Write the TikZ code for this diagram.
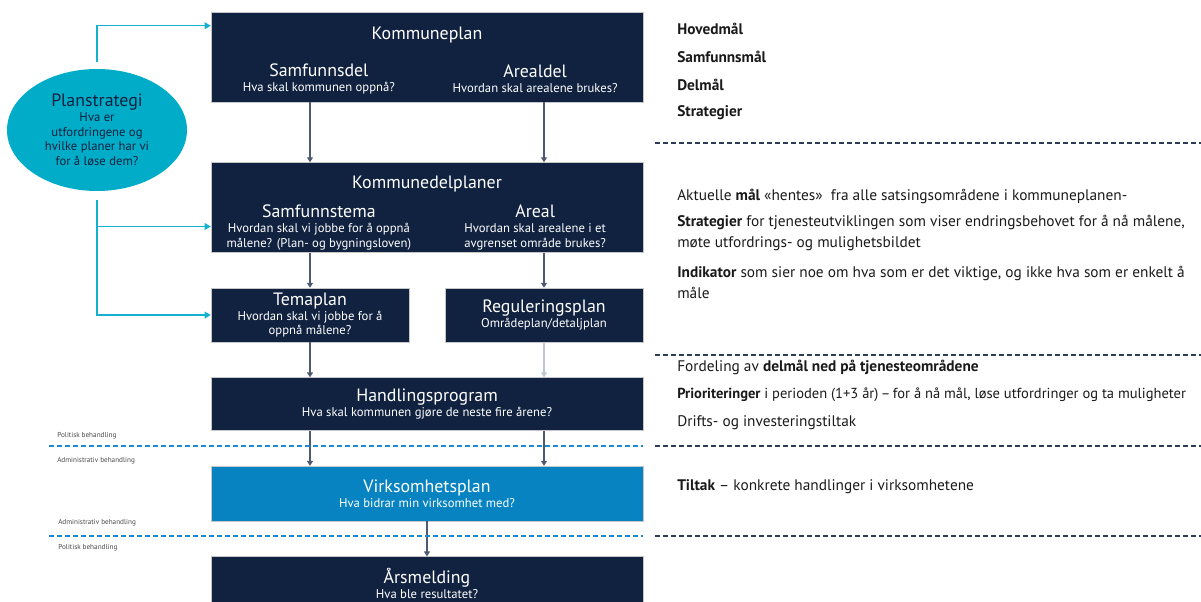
\documentclass[tikz,border=0pt]{standalone}
\usepackage{fontspec}
\setmainfont{PT Sans}
\usetikzlibrary{calc, shapes.geometric, arrows.meta, positioning}
\usepackage{xcolor}

\definecolor{navy}{RGB}{16,34,63}
\definecolor{vblue}{RGB}{6,131,192}
\definecolor{tealc}{RGB}{0,172,200}
\definecolor{tealline}{RGB}{20,176,208}
\definecolor{arrowc}{RGB}{76,90,114}
\definecolor{lightarrow}{RGB}{191,198,208}
\definecolor{sepblue}{RGB}{27,139,208}
\definecolor{sepdark}{RGB}{46,61,87}
\definecolor{notec}{RGB}{26,26,26}

\newcommand{\bxhead}{\fontsize{13.4pt}{15pt}\selectfont}
\newcommand{\bxsub}{\fontsize{9.5pt}{11.25pt}\selectfont}

\begin{document}
\begin{tikzpicture}[
    x=0.75pt, y=-0.75pt,
    every node/.style={font=\small},
    box/.style={rectangle, draw=gray!45, line width=0.4pt, fill=navy, text=white, minimum width=324pt, minimum height=40.5pt, align=center, inner sep=0pt},
    halfbox/.style={box, minimum width=148.5pt},
    plan/.style={ellipse, fill=tealc, text=navy, minimum width=135pt, minimum height=91.5pt, align=center, inner sep=0pt},
    boxhead/.style={text=white, font=\bxhead, inner sep=0pt},
    colhead/.style={text=white, align=center, inner sep=0pt},
    note/.style={anchor=west, align=left, text=notec, inner sep=0pt, font=\fontsize{11.5pt}{15.75pt}\selectfont},
    phase/.style={anchor=west, text=notec!80, inner sep=0pt, font=\fontsize{5.4pt}{6pt}\selectfont},
    arrow/.style={-{Triangle[length=3.75pt, width=4.5pt]}, line width=1.1pt, draw=arrowc},
    lightarr/.style={arrow, draw=lightarrow},
    tealarrow/.style={-{Triangle[length=4.5pt, width=5pt]}, line width=1.1pt, draw=tealline},
    sepleft/.style={dashed, dash pattern=on 4pt off 2pt, line width=0.9pt, draw=sepblue},
    sepright/.style={dashed, dash pattern=on 4pt off 2pt, line width=0.9pt, draw=sepdark}
]
    \useasboundingbox (0,0) rectangle (1201,602);

    % Plan boxes
    \node[box, minimum height=67.5pt] (kp) at (427,57) {};
    \node[box, minimum height=67.5pt, below=45pt of kp] (kdp) {};
    \node[halfbox, below right=26.25pt and 0pt of kdp.south west] (tema) {\bxhead Temaplan\\\bxsub Hvordan skal vi jobbe for å\\\bxsub oppnå målene?};
    \node[halfbox, below left=26.25pt and 0pt of kdp.south east] (reg) {\bxhead Reguleringsplan\\\bxsub Områdeplan/detaljplan};
    \coordinate (hptop) at (tema.south -| kdp.south);
    \node[box, minimum height=39.75pt, below=26.25pt of hptop] (hp) {\bxhead Handlingsprogram\\\bxsub Hva skal kommunen gjøre de neste fire årene?};
    \node[box, fill=vblue, minimum height=41.25pt, below=26.25pt of hp] (vp) {\bxhead Virksomhetsplan\\\bxsub Hva bidrar min virksomhet med?};
    \node[box, minimum height=40.5pt, below=26.25pt of vp] (ar) {\bxhead Årsmelding\\\bxsub Hva ble resultatet?};

    % Texts inside the big boxes
    \node[boxhead] at ($(kp.north)+(0,23)$) {Kommuneplan};
    \node[colhead] at ($(kp.west)!0.25!(kp.east)+(0,22)$) {\bxhead Samfunnsdel\\\bxsub Hva skal kommunen oppnå?};
    \node[colhead] at ($(kp.west)!0.75!(kp.east)+(0,22)$) {\bxhead Arealdel\\\bxsub Hvordan skal arealene brukes?};
    \node[boxhead] at ($(kdp.north)+(0,22)$) {Kommunedelplaner};
    \node[colhead] at ($(kdp.west)!0.25!(kdp.east)+(0,20)$) {\bxhead Samfunnstema\\\bxsub Hvordan skal vi jobbe for å oppnå\\\bxsub målene? (Plan- og bygningsloven)};
    \node[colhead] at ($(kdp.west)!0.75!(kdp.east)+(0,20)$) {\bxhead Areal\\\bxsub Hvordan skal arealene i et\\\bxsub avgrenset område brukes?};

    % Planstrategi
    \node[plan] (ps) at (97,130) {\bxhead Planstrategi\\\bxsub Hva er\\\bxsub utfordringene og\\\bxsub hvilke planer har vi\\\bxsub for å løse dem?};
    \coordinate (kpin) at ($(kp.north west)+(0,14)$);
    \coordinate (kdpin) at ($(kdp.west)+(0,19)$);
    \draw[tealarrow] (ps.north) ++(0,-7) |- (kpin);
    \draw[tealarrow] (ps.south) ++(0,9) |- (tema.west);
    \draw[tealarrow] (ps.south |- kdpin) -- (kdpin);

    % Arrows between the plans
    \draw[arrow] (kp.south -| tema) -- (kdp.north -| tema);
    \draw[arrow] (kp.south -| reg) -- (kdp.north -| reg);
    \draw[arrow] (kdp.south -| tema) -- (tema.north);
    \draw[arrow] (kdp.south -| reg) -- (reg.north);
    \draw[arrow] (tema.south) -- (hp.north -| tema);
    \draw[lightarr] (reg.south) -- (hp.north -| reg);
    \draw[arrow] (hp.south -| tema) -- (vp.north -| tema);
    \draw[arrow] (hp.south -| reg) -- (vp.north -| reg);
    \draw[arrow] (vp.south) -- (ar.north);

    % Political / administrative lines
    \draw[sepleft] (49,446) -- (643,446);
    \draw[sepleft] (49,536) -- (643,536);
    \node[phase] at (57,436) {Politisk behandling};
    \node[phase] at (57,461) {Administrativ behandling};
    \node[phase] at (58,523) {Administrativ behandling};
    \node[phase] at (58,548) {Politisk behandling};

    % Notes on the right
    \draw[sepright] (655,143) -- (1201,143);
    \draw[sepright] (655,355) -- (1201,355);
    \draw[sepright] (655,446) -- (1201,446);
    \draw[sepright] (655,536) -- (1201,536);
    \node[note] at (677,29) {\textbf{Hovedmål}};
    \node[note] at (677,57) {\textbf{Samfunnsmål}};
    \node[note] at (677,85) {\textbf{Delmål}};
    \node[note] at (677,113) {\textbf{Strategier}};
    \node[note] at (677,196) {Aktuelle \textbf{mål} «hentes»\ \ fra alle satsingsområdene i kommuneplanen-};
    \node[note] at (677,233) {\textbf{Strategier} for tjenesteutviklingen som viser endringsbehovet for å nå målene,\\møte utfordrings- og mulighetsbildet};
    \node[note] at (677,282) {\textbf{Indikator} som sier noe om hva som er det viktige, og ikke hva som er enkelt å\\måle};
    \node[note] at (677,367) {Fordeling av \textbf{delmål ned på tjenesteområdene}};
    \node[note, font=\fontsize{10.9pt}{15.75pt}\selectfont] at (677,395) {\textbf{Prioriteringer} i perioden (1+3 år)\,–\,for å nå mål, løse utfordringer og ta muligheter};
    \node[note] at (677,423) {Drifts- og investeringstiltak};
    \node[note] at (677,487) {\textbf{Tiltak} – konkrete handlinger i virksomhetene};
\end{tikzpicture}
\end{document}
